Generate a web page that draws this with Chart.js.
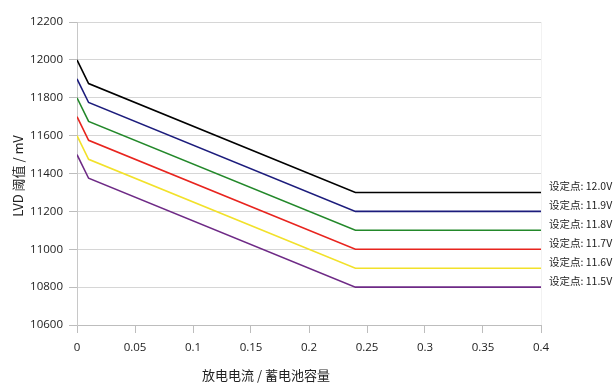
<!DOCTYPE html>
<html>
<head>
<meta charset="utf-8">
<script src="https://cdn.jsdelivr.net/npm/chart.js@4"></script>
<style>
  html, body { margin: 0; padding: 0; background: #fff; }
  #wrap { width: 616px; height: 390px; }
</style>
</head>
<body>
<div id="wrap"><canvas id="lvdChart" width="616" height="390"></canvas></div>
<script>
'use strict';

// x positions of the curve breakpoints (discharge current / capacity)
const xPoints = [0, 0.01, 0.24, 0.4];

// LVD threshold (mV) at each breakpoint, one array per set point
const lvd120 = [12000, 11875, 11300, 11300];
const lvd119 = [11900, 11775, 11200, 11200];
const lvd118 = [11800, 11675, 11100, 11100];
const lvd117 = [11700, 11575, 11000, 11000];
const lvd116 = [11600, 11475, 10900, 10900];
const lvd115 = [11500, 11375, 10800, 10800];

const seriesLabels = ['设定点: 12.0V', '设定点: 11.9V', '设定点: 11.8V', '设定点: 11.7V', '设定点: 11.6V', '设定点: 11.5V'];
const seriesValues = [lvd120, lvd119, lvd118, lvd117, lvd116, lvd115];
const seriesColors = ['#000000', '#1c1c7c', '#23882a', '#e8241e', '#f2e12a', '#6e2a86'];

const xTitle = '放电电流 / 蓄电池容量';
const yTitle = 'LVD 阈值 / mV';

const FONT = "'Open Sans', 'Noto Sans CJK SC', sans-serif";
const CJK = "'Noto Sans CJK SC', 'Open Sans', sans-serif";

const datasets = seriesValues.map((vals, i) => ({
  label: seriesLabels[i],
  data: xPoints.map((x, j) => ({ x, y: vals[j] })),
  borderColor: seriesColors[i],
  backgroundColor: seriesColors[i],
  borderWidth: 1.6,
  pointRadius: 0,
  tension: 0,
  fill: false
}));

// end labels to the right of each line + the two axis titles
const annotate = {
  id: 'annotate',
  afterDatasetsDraw(chart) {
    const { ctx, chartArea } = chart;
    ctx.save();
    ctx.fillStyle = '#222';
    ctx.font = '10.5px ' + CJK;
    ctx.textAlign = 'left';
    ctx.textBaseline = 'middle';
    chart.data.datasets.forEach((ds, i) => {
      const meta = chart.getDatasetMeta(i);
      const last = meta.data[meta.data.length - 1];
      ctx.fillText(ds.label, chartArea.right + 8, last.y - 6);
    });

    ctx.font = '13px ' + CJK;
    ctx.textAlign = 'center';
    ctx.fillText(xTitle, 266, 375);

    ctx.translate(18, 176);
    ctx.rotate(-Math.PI / 2);
    ctx.fillText(yTitle, 0, 0);
    ctx.restore();
  }
};

new Chart(document.getElementById('lvdChart'), {
  type: 'line',
  data: { datasets },
  plugins: [annotate],
  options: {
    responsive: false,
    animation: false,
    devicePixelRatio: 1,
    layout: { padding: { left: 0, right: 75, top: 22, bottom: 0 } },
    plugins: { legend: { display: false }, tooltip: { enabled: false } },
    scales: {
      x: {
        type: 'linear',
        min: 0, max: 0.4,
        afterFit: s => { s.height = 65; },
        ticks: { stepSize: 0.05, color: '#222', padding: 8, font: { family: FONT, size: 11.5 },
          callback: v => String(+v.toFixed(2)) },
        grid: {
          color: c => c.index === 0 ? '#c8c8c8' : (c.tick && c.tick.value === 0.4 ? '#f2f2f2' : 'rgba(0,0,0,0)'),
          tickColor: '#bdbdbd',
          tickLength: 8,
          lineWidth: 1
        },
        border: { display: true, color: '#bdbdbd' }
      },
      y: {
        min: 10600, max: 12200,
        afterFit: s => { s.width = 77; },
        ticks: { stepSize: 200, color: '#222', padding: 6, font: { family: FONT, size: 11.5 },
          callback: v => String(v) },
        grid: { color: '#d6d6d6', tickColor: '#bdbdbd', tickLength: 8, lineWidth: 1 },
        border: { display: true, color: '#c8c8c8' }
      }
    }
  }
});
</script>
</body>
</html>
